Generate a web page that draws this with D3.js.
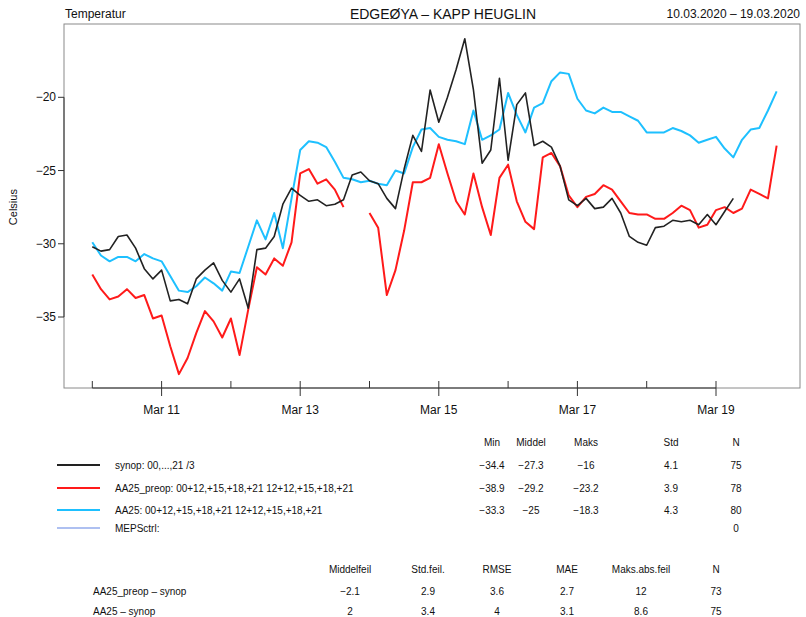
<!DOCTYPE html>
<html>
<head>
<meta charset="utf-8">
<title>Temperatur – Edgeøya</title>
<style>
  body { margin: 0; background: #fff; }
  text { font-family: "Liberation Sans", Arial, sans-serif; fill: #111; }
</style>
</head>
<body>
<svg width="806" height="617"></svg>
<script src="https://d3js.org/d3.v7.min.js"></script>
<script>

// 3-hourly values from 2020-03-10 00 UTC
const synop = [-30.2, -30.5, -30.4, -29.5, -29.4, -30.3, -31.7, -32.4, -31.8, -33.9,
    -33.8, -34.1, -32.4, -31.8, -31.3, -32.5, -33.3, -32.4, -34.4, -30.4,
    -30.3, -29.5, -27.3, -26.2, -26.7, -27.1, -27.0, -27.4, -27.3, -27.0,
    -25.3, -25.1, -25.7, -25.9, -26.9, -27.6, -24.9, -22.6, -23.7, -19.5,
    -21.7, -20.0, -18.1, -16.0, -19.5, -24.5, -23.6, -18.7, -24.3, -20.5,
    -19.7, -23.3, -23.0, -23.4, -24.7, -27.0, -27.4, -26.9, -27.6, -27.5,
    -26.9, -27.9, -29.5, -29.9, -30.1, -28.9, -28.8, -28.4, -28.5, -28.4,
    -28.7, -28.0, -28.7, -27.8, -26.9];

const aa25Preop = [-32.1, -33.1, -33.8, -33.6, -33.1, -33.7, -33.5, -35.1, -34.9, -37.0,
    -38.9, -37.8, -36.1, -34.6, -35.3, -36.4, -35.1, -37.6, -34.5, -31.6,
    -32.1, -31.0, -31.5, -29.9, -25.2, -24.9, -25.9, -25.6, -26.3, -27.5,
    null, null, -27.9, -28.9, -33.5, -31.8, -29.1, -25.8, -25.8, -25.5,
    -23.2, -25.2, -27.1, -28.0, -25.2, -27.5, -29.4, -25.5, -24.6, -27.1,
    -28.5, -29.0, -24.1, -23.8, -24.7, -26.7, -27.5, -26.8, -26.6, -26.0,
    -26.3, -27.1, -27.9, -28.0, -28.0, -28.3, -28.3, -27.9, -27.4, -27.7,
    -28.9, -28.7, -27.7, -27.5, -27.9, -27.6, -26.3, -26.6, -26.9, -23.3];

const aa25 = [-29.9, -30.8, -31.2, -30.9, -30.9, -31.2, -30.7, -31.0, -31.2, -32.2,
    -33.2, -33.3, -32.9, -32.3, -32.7, -33.2, -31.9, -32.0, -30.2, -28.4,
    -29.7, -27.9, -30.3, -26.9, -23.6, -23.0, -23.1, -23.4, -24.4, -25.5,
    -25.6, -25.8, -25.7, -25.9, -26.0, -25.0, -25.2, -23.4, -22.2, -22.1,
    -22.7, -22.9, -23.0, -23.2, -20.9, -22.9, -22.6, -22.2, -19.7, -21.2,
    -22.4, -20.7, -20.4, -18.9, -18.3, -18.4, -20.1, -20.9, -21.1, -20.7,
    -21.0, -21.0, -21.3, -21.6, -22.4, -22.4, -22.4, -22.1, -22.3, -22.6,
    -23.1, -22.9, -22.7, -23.5, -24.1, -22.9, -22.2, -22.1, -20.9, -19.6];

const mepsCtrl = [];

const seriesNames = ["synop:  00,...,21 /3",
    "AA25_preop:  00+12,+15,+18,+21 12+12,+15,+18,+21",
    "AA25:  00+12,+15,+18,+21 12+12,+15,+18,+21",
    "MEPSctrl:"];
const seriesColors = ["#222222", "#ff1a1a", "#1ec0ff", "#5f82e4"];

const statHeads = ["Min", "Middel", "Maks", "Std", "N"];
const statRows = [
    ["\u221234.4", "\u221227.3", "\u221216", "4.1", "75"],
    ["\u221238.9", "\u221229.2", "\u221223.2", "3.9", "78"],
    ["\u221233.3", "\u221225", "\u221218.3", "4.3", "80"],
    ["", "", "", "", "0"]
];

const errHeads = ["Middelfeil", "Std.feil.", "RMSE", "MAE", "Maks.abs.feil", "N"];
const errNames = ["AA25_preop \u2013 synop", "AA25 \u2013 synop"];
const errRows = [
    ["\u22122.1", "2.9", "3.6", "2.7", "12", "73"],
    ["2", "3.4", "4", "3.1", "8.6", "75"]
];

const yTicks = [-35, -30, -25, -20];

const svg = d3.select("svg");

// plot box
const box = {left: 64, right: 800, top: 24, bottom: 388};

const t0 = Date.UTC(2020, 2, 10);
const step = 3 * 3600 * 1000;
const x = d3.scaleUtc()
    .domain([t0, Date.UTC(2020, 2, 20)])
    .range([92.3, 785.3]);
const y = d3.scaleLinear()
    .domain([-35, -20])
    .range([317, 97.3]);

svg.append("rect")
    .attr("x", box.left).attr("y", box.top)
    .attr("width", box.right - box.left).attr("height", box.bottom - box.top)
    .attr("fill", "none").attr("stroke", "#8a8a8a").attr("stroke-width", 1);

// header texts
svg.append("text").attr("x", 65).attr("y", 18).attr("font-size", 12).text("Temperatur");
svg.append("text").attr("x", 443).attr("y", 19).attr("font-size", 14)
    .attr("text-anchor", "middle").text("EDGEØYA \u2013 KAPP HEUGLIN");
svg.append("text").attr("x", 800).attr("y", 18).attr("font-size", 12)
    .attr("text-anchor", "end").text("10.03.2020 \u2013 19.03.2020");

// y axis
const yAxis = svg.append("g");
yAxis.append("line")
    .attr("x1", box.left).attr("x2", box.left)
    .attr("y1", y(-35)).attr("y2", y(-20))
    .attr("stroke", "#333");
yAxis.selectAll(".yt").data(yTicks).enter().append("line")
    .attr("x1", box.left - 6).attr("x2", box.left)
    .attr("y1", d => y(d)).attr("y2", d => y(d))
    .attr("stroke", "#333");
yAxis.selectAll(".yl").data(yTicks).enter().append("text")
    .attr("x", box.left - 8).attr("y", d => y(d) + 4)
    .attr("text-anchor", "end").attr("font-size", 12)
    .text(d => "\u2212" + Math.abs(d));
svg.append("text")
    .attr("transform", "translate(17," + y(-27.5) + ") rotate(-90)")
    .attr("text-anchor", "middle").attr("font-size", 11).text("Celsius");

// x axis: a tick every day, labels on odd days
const days = d3.utcDay.range(new Date(t0), new Date(Date.UTC(2020, 2, 20)));
svg.append("line")
    .attr("x1", x(days[0])).attr("x2", x(days[days.length - 1]))
    .attr("y1", box.bottom).attr("y2", box.bottom)
    .attr("stroke", "#333");
svg.selectAll(".xt").data(days).enter().append("line")
    .attr("x1", d => x(d)).attr("x2", d => x(d))
    .attr("y1", box.bottom - 7)
    .attr("y2", d => d.getUTCDate() % 2 ? box.bottom + 8 : box.bottom)
    .attr("stroke", "#333");
const fmt = d3.utcFormat("%b %-d");
svg.selectAll(".xl").data(days.filter(d => d.getUTCDate() % 2)).enter().append("text")
    .attr("x", d => x(d)).attr("y", 414)
    .attr("text-anchor", "middle").attr("font-size", 12)
    .text(d => fmt(d));

// series lines
const line = d3.line()
    .defined(d => d[1] !== null)
    .x(d => x(d[0]))
    .y(d => y(d[1]));

function toPoints(values) {
    return values.map((v, i) => [t0 + i * step, v]);
}

const lineData = [
    {values: aa25, color: seriesColors[2], width: 2},
    {values: aa25Preop, color: seriesColors[1], width: 2},
    {values: synop, color: seriesColors[0], width: 1.6}
];
svg.append("g").selectAll("path").data(lineData).enter().append("path")
    .attr("d", d => line(toPoints(d.values)))
    .attr("fill", "none")
    .attr("stroke", d => d.color)
    .attr("stroke-width", d => d.width)
    .attr("stroke-linejoin", "round");

// legend + statistics table
const statX = [492, 531, 586, 671, 736];
const legY = [465, 488, 510, 528];
const statTbl = svg.append("g").attr("font-size", 10);
statTbl.selectAll(".sh").data(statHeads).enter().append("text")
    .attr("x", (d, i) => statX[i]).attr("y", 446)
    .attr("text-anchor", "middle").attr("font-size", 10).text(d => d);
const legRow = statTbl.selectAll(".lr").data(seriesNames).enter().append("g");
legRow.append("line")
    .attr("x1", 57).attr("x2", 100)
    .attr("y1", (d, i) => legY[i]).attr("y2", (d, i) => legY[i])
    .attr("stroke", (d, i) => seriesColors[i])
    .attr("stroke-width", (d, i) => i === 3 ? 1.2 : 1.8);
legRow.append("text")
    .attr("x", 115).attr("y", (d, i) => legY[i] + 3.5)
    .attr("font-size", 10).text(d => d);
legRow.each(function(d, i) {
    d3.select(this).selectAll("text.v").data(statRows[i]).enter().append("text")
        .attr("class", "v")
        .attr("x", (v, j) => statX[j]).attr("y", legY[i] + 3.5)
        .attr("text-anchor", "middle").attr("font-size", 10).text(v => v);
});

// error table
const errX = [350, 428, 497, 567, 641, 716];
const errY = [591, 611];
const errTbl = svg.append("g");
errTbl.selectAll(".eh").data(errHeads).enter().append("text")
    .attr("x", (d, i) => errX[i]).attr("y", 573)
    .attr("text-anchor", "middle").attr("font-size", 10).text(d => d);
errNames.forEach((name, i) => {
    errTbl.append("text").attr("x", 93).attr("y", errY[i] + 3.5)
        .attr("font-size", 10).text(name);
    errTbl.selectAll(".ev" + i).data(errRows[i]).enter().append("text")
        .attr("x", (v, j) => errX[j]).attr("y", errY[i] + 3.5)
        .attr("text-anchor", "middle").attr("font-size", 10).text(v => v);
});

</script>
</body>
</html>
